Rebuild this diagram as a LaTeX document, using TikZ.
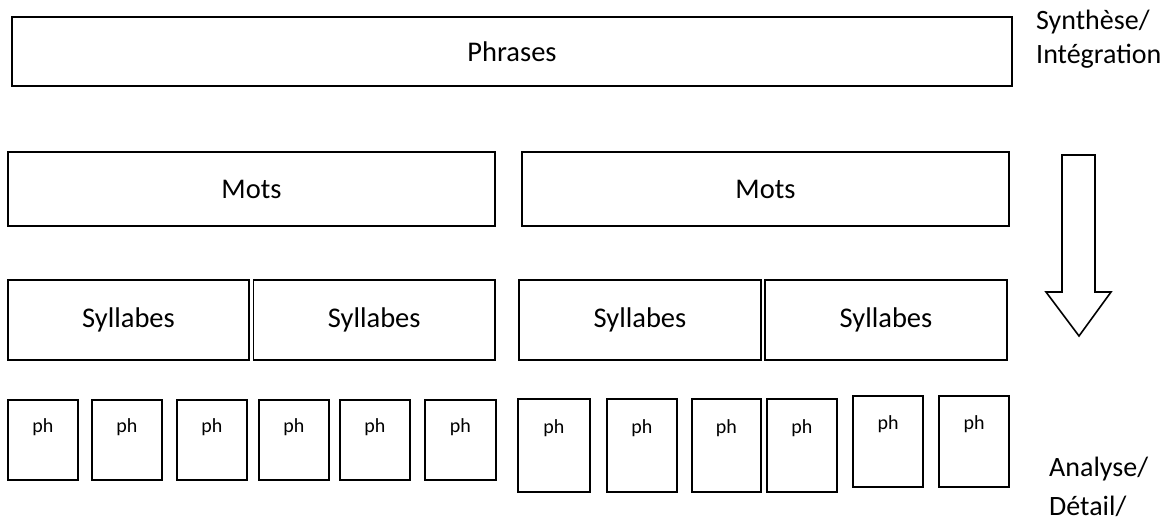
\documentclass[tikz,border=0pt]{standalone}
\usepackage{fontspec}
\setmainfont{Carlito}
\begin{document}
\begin{tikzpicture}[x=1pt,y=-1pt,
  box/.style={draw=black,line width=1.6pt,rectangle,inner sep=0pt,outer sep=0pt,
    font=\fontsize{28.5}{34}\selectfont},
  phbox/.style={draw=black,line width=1.6pt,rectangle,inner sep=0pt,outer sep=0pt},
  phlabel/.style={inner sep=0pt,anchor=base,font=\fontsize{20}{24}\selectfont},
  side/.style={inner sep=0pt,anchor=base west,font=\fontsize{28}{34}\selectfont}]
\useasboundingbox[fill=white] (0,0) rectangle (1176,520);

% Phrases
\node[box,line width=2pt,minimum width=1000,minimum height=69] (phr) at (512,51.5) {Phrases};

% Mots
\node[box,minimum width=487,minimum height=74] (m1) at (251.5,189) {Mots};
\node[box,minimum width=487,minimum height=74] (m2) at (765.5,189) {Mots};

% Syllabes
\node[box,minimum width=241,minimum height=80] (s1) at (128.5,320) {Syllabes};
\node[box,minimum width=241.5,minimum height=80] (s2) at (374.25,320) {Syllabes};
\node[box,minimum width=242,minimum height=80] (s3) at (640,320) {Syllabes};
\node[box,minimum width=242,minimum height=80] (s4) at (886,320) {Syllabes};

% ph boxes
\foreach \n/\cx/\cy/\w/\h/\d in {
  1/43/440/70/80/32, 2/127/440/70/80/32, 3/212/440/70/80/32,
  4/294/440/70/80/32, 5/375/440/70/80/32, 6/460.5/440/71/80/32,
  7/554/445.5/72/93/34, 8/642/445.5/70/93/34, 9/726.5/445.5/69/93/34,
  10/802/445.5/70/93/34, 11/888/441.5/70/91/33, 12/974/441.5/70/91/33}{
  \node[phbox,minimum width=\w,minimum height=\h] (p\n) at (\cx,\cy) {};
  \node[phlabel] (pl\n) at ([yshift=-\d pt]p\n.north) {ph};
}

% arrow
\draw[line width=1.6pt,line join=miter] (1062,155) -- (1062,292) -- (1046,292) -- (1079,336)
  -- (1111,292) -- (1095,292) -- (1095,155) -- cycle;

% side texts
\node[side] (syn) at (1036,29) {Synthèse/};
\node[side] (int) at (1036,63) {Intégration};
\node[side] (ana) at (1049,476) {Analyse/};
\node[side] (det) at (1049,515) {Détail/};
\end{tikzpicture}
\end{document}
